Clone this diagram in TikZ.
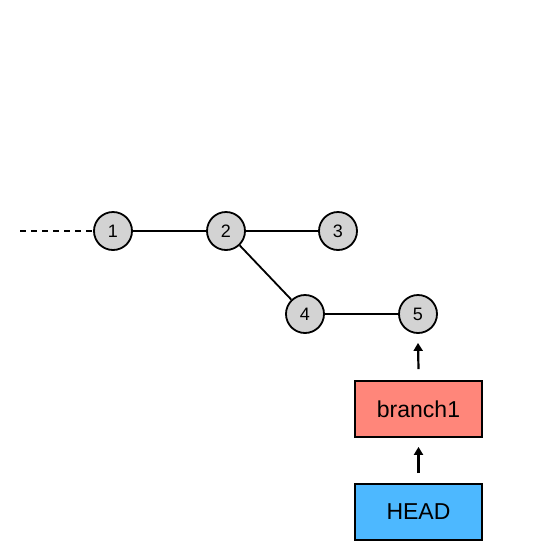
\documentclass[tikz,border=0pt]{standalone}
\usepackage{fontspec}
\setmainfont{Liberation Sans}
\usetikzlibrary{arrows.meta}

\definecolor{commitgray}{HTML}{D3D3D3}
\definecolor{branchred}{HTML}{FF867A}
\definecolor{headblue}{HTML}{4DB8FF}

\tikzset{
  commit/.style={circle, draw, line width=1.8pt, fill=commitgray, minimum size=38pt, inner sep=0pt, font=\fontsize{18}{21}\selectfont},
  refbox/.style={draw, line width=1.8pt, minimum width=127pt, minimum height=56pt, inner sep=0pt, font=\fontsize{23}{27}\selectfont},
  link/.style={line width=1.8pt},
  pointer/.style={line width=2.2pt, -{Triangle[length=8pt,width=9pt]}}
}

\begin{document}
\begin{tikzpicture}[x=1pt,y=-1pt]
                    \useasboundingbox (0,0) rectangle (534,552);
                    \coordinate (tail) at (20,231);
                    \node[commit] (c1) at (113,231) {1};
                    \node[commit] (c2) at (226,231) {2};
                    \node[commit] (c3) at (338,231) {3};
                    \node[commit] (c4) at (305,314) {4};
                    \node[commit] (c5) at (418,314) {5};
                    \node[refbox, fill=branchred] (branch) at (418.5,409) {branch1};
                    \node[refbox, fill=headblue] (head) at (418.5,512) {HEAD};
                    \draw[link, dash pattern=on 6pt off 5pt] (tail) -- (c1);
                    \draw[link] (c1) -- (c2);
                    \draw[link] (c2) -- (c3);
                    \draw[link] (c2) -- (c4);
                    \draw[link] (c4) -- (c5);
                    \draw[pointer] ([yshift=11pt]branch.north) -- ([yshift=-9pt]c5.south);
                    \draw[pointer] ([yshift=10pt]head.north) -- ([yshift=-9pt]branch.south);
                \end{tikzpicture}
\end{document}
